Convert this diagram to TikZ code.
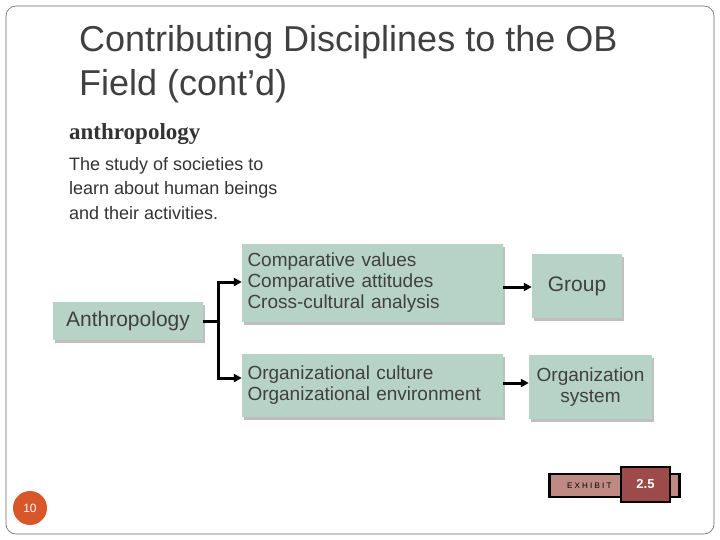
\documentclass[tikz,border=0pt]{standalone}
\usepackage{fontspec}
\setmainfont{Liberation Sans}
\newfontfamily\serf{Liberation Serif}
\usetikzlibrary{shadows,arrows.meta}
\definecolor{bx}{HTML}{B7D3C8}
\definecolor{exl}{HTML}{C08A84}
\definecolor{exd}{HTML}{9C4A4A}
\definecolor{pg}{HTML}{D9552A}
\tikzset{box/.style={fill=bx,draw=none,drop shadow={shadow xshift=2pt,shadow yshift=-3pt,opacity=0.5},inner sep=0pt,font=\fontsize{19}{21}\selectfont,text=black!75,align=center},
arr/.style={line width=3pt,-{Triangle[length=8pt,width=8pt]}}}
\begin{document}
\begin{tikzpicture}[x=1pt,y=-1pt]
\useasboundingbox (0,0) rectangle (720,540);
\draw[rounded corners=10pt,draw=black!60,line width=0.6pt] (6,6) rectangle (714,534);
\node[anchor=west,align=left,inner sep=0pt,font=\fontsize{36}{44}\selectfont,text=black!75] (t) at (79,64) {Contributing Disciplines to the OB\\Field (cont’d)};
\node[anchor=north west,inner sep=0pt,font=\serf\bfseries\fontsize{23}{25}\selectfont,text=black!80] (h) at (69,123) {anthropology};
\node[anchor=north west,inner sep=0pt,align=left,font=\fontsize{18}{24.5}\selectfont,text=black!80] (d) at (69,157) {The study of societies to\\learn about human beings\\and their activities.};
\node[box,minimum width=150,minimum height=38,font=\fontsize{21}{23}\selectfont] (a) at (128,321) {Anthropology};
\node[box,minimum width=261,minimum height=78,align=left,text width=250] (c) at (372.5,283) {Comparative values\\Comparative attitudes\\Cross-cultural analysis};
\node[box,minimum width=90,minimum height=64,font=\fontsize{21}{23}\selectfont] (g) at (577,286) {Group};
\node[box,minimum width=261,minimum height=63,align=left,text width=250] (o) at (372.5,385.5) {Organizational culture\\Organizational environment};
\node[box,minimum width=123,minimum height=64] (s) at (590.5,387) {Organization\\system};
\coordinate (j) at (218,321);
\draw[line width=3pt] (a.east) -- (j);
\draw[arr] (j) |- (c.west|-0,282);
\draw[arr] (j) |- (o.west|-0,378);
\draw[arr] (c.east|-0,287) -- (g.west|-0,287);
\draw[arr] (o.east|-0,383) -- (s.west|-0,383);
\node[draw=black,line width=2.5pt,fill=exl,minimum width=130,minimum height=23,inner sep=0pt,anchor=west,font=\fontsize{8}{9}\selectfont] (e) at (548,485.5) {\hspace*{-50pt}E X H I B I T};
\node[draw=black,line width=2.5pt,fill=exd,minimum width=49,minimum height=35,inner sep=0pt,text=white,font=\bfseries\fontsize{13}{14}\selectfont] (n) at (645.5,484.5) {2.5};
\node[circle,fill=pg,minimum size=34,inner sep=0pt,text=white,font=\fontsize{12}{13}\selectfont] (p) at (30,508) {10};
\end{tikzpicture}
\end{document}
